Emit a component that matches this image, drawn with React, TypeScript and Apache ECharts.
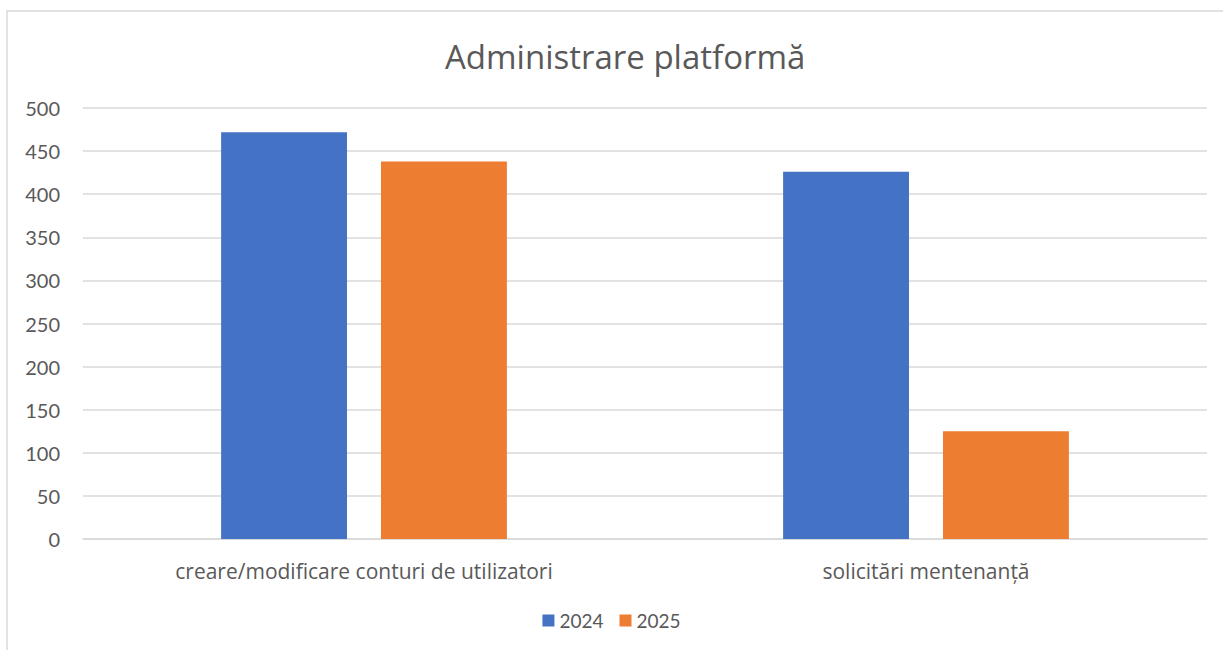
import React, { useEffect, useRef } from "react";
import * as echarts from "echarts";

const categories = ["creare/modificare conturi de utilizatori", "solicitări mentenanță"];
const series2024 = [472, 426];
const series2025 = [438, 125];
const seriesNames = ["2024", "2025"];
const titleText = "Administrare platformă";

export default function App() {
  const ref = useRef<HTMLDivElement>(null);
  useEffect(() => {
    document.body.style.margin = "0";
    const chart = echarts.init(ref.current!, null, { renderer: "svg" });
    const font = "Lato, 'Open Sans', sans-serif";
    const wide = "'Open Sans', sans-serif";
    chart.setOption({
      animation: false,
      backgroundColor: "#ffffff",
      title: {
        text: titleText,
        left: 440,
        top: 35,
        textStyle: { fontFamily: wide, fontSize: 33, fontWeight: "normal", color: "#595959" },
      },
      graphic: [
        {
          type: "rect",
          shape: { x: 7, y: 11, width: 1300, height: 700 },
          style: { fill: "none", stroke: "#d9d9d9", lineWidth: 1.5 },
          silent: true,
        },
      ],
      legend: {
        data: seriesNames,
        bottom: 15,
        left: "center",
        itemWidth: 12,
        itemHeight: 12,
        itemGap: 16,
        icon: "rect",
        textStyle: { fontFamily: font, fontSize: 19, color: "#595959" },
      },
      grid: { left: 83, right: 16, top: 108, bottom: 111 },
      xAxis: {
        type: "category",
        data: categories,
        axisLine: { lineStyle: { color: "#d9d9d9", width: 1.5 } },
        axisTick: { show: false },
        axisLabel: { fontFamily: wide, fontSize: 21, color: "#595959", margin: 21 },
      },
      yAxis: {
        type: "value",
        min: 0,
        max: 500,
        interval: 50,
        axisLine: { show: false },
        axisTick: { show: false },
        splitLine: { lineStyle: { color: "#d9d9d9", width: 1.5 } },
        axisLabel: { fontFamily: font, fontSize: 20, color: "#595959", margin: 23 },
      },
      series: [
        {
          name: seriesNames[0],
          type: "bar",
          data: series2024,
          barWidth: "22.4%",
          barGap: "27%",
          itemStyle: { color: "#4472c4" },
        },
        {
          name: seriesNames[1],
          type: "bar",
          data: series2025,
          barWidth: "22.4%",
          barGap: "27%",
          itemStyle: { color: "#ed7d31" },
        },
      ],
    });
    return () => chart.dispose();
  }, []);
  return <div ref={ref} style={{ width: 1223, height: 650 }} />;
}
